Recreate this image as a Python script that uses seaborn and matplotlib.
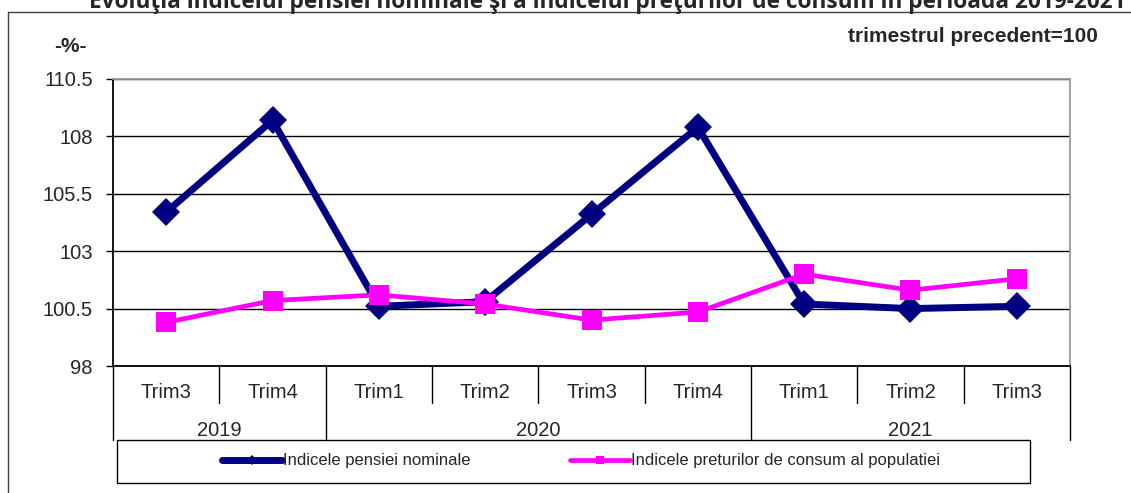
import matplotlib.pyplot as plt
import matplotlib.transforms as mtransforms
from matplotlib.lines import Line2D
from matplotlib.patches import Rectangle
import seaborn as sns
import numpy as np

quarters = ["Trim3", "Trim4", "Trim1", "Trim2", "Trim3", "Trim4", "Trim1", "Trim2", "Trim3"]
years = ["2019", "2019", "2020", "2020", "2020", "2020", "2021", "2021", "2021"]
pensie = [104.7, 108.7, 100.6, 100.8, 104.6, 108.4, 100.7, 100.5, 100.6]
preturi = [99.9, 100.85, 101.1, 100.7, 100.0, 100.35, 102.0, 101.3, 101.8]
y_ticks = [98, 100.5, 103, 105.5, 108, 110.5]
series_names = ["Indicele pensiei nominale", "Indicele preturilor de consum al populatiei"]
title = "Evoluţia indicelui pensiei nominale şi a indicelui preţurilor de consum în perioada 2019-2021"

sns.set_style("white")
plt.rcParams['font.family'] = ['Liberation Sans', 'DejaVu Sans']

fig = plt.figure(figsize=(11.31, 4.93), dpi=100)
ax = fig.add_axes([113 / 1131, 1 - 366 / 493, (1070 - 113) / 1131, (366 - 79) / 493])

pos = np.arange(len(quarters))
sns.lineplot(x=pos, y=pensie, ax=ax, color='#000080', linewidth=5, marker='D',
             markersize=14, markeredgewidth=0, label=series_names[0], legend=False)
sns.lineplot(x=pos, y=preturi, ax=ax, color='#FF00FF', linewidth=3.4, marker='s',
             markersize=14, markeredgewidth=0, label=series_names[1], legend=False)

ax.set_xlim(-0.5, len(quarters) - 0.5)
ax.set_ylim(y_ticks[0], y_ticks[-1])
ax.set_yticks(y_ticks)
ax.set_yticklabels([f"{t:g}" for t in y_ticks], fontsize=14.5)
ax.set_xticks([])
ax.set_xlabel("")
ax.set_ylabel("")
ax.grid(axis='y', color='black', linewidth=1)
ax.tick_params(axis='y', left=True, length=5, width=1, color='black', pad=9.5)
ax.spines['left'].set_color('black')
ax.spines['bottom'].set_color('black')
ax.spines['top'].set_color('#999999')
ax.spines['right'].set_color('#999999')
for s in ax.spines.values():
    s.set_linewidth(1.3)

# category axis below the plot
trans = mtransforms.blended_transform_factory(ax.transData, ax.transAxes)
short_h = 37 / 287
long_h = 74 / 287
for i in range(len(quarters) + 1):
    edge = i == 0 or i == len(quarters) or years[i] != years[i - 1]
    h = long_h if edge else short_h
    ax.plot([i - 0.5, i - 0.5], [0, -h], transform=trans, color='black',
            linewidth=1, clip_on=False)
for i, q in enumerate(quarters):
    ax.text(i, -27 / 287, q, transform=trans, ha='center', va='center', fontsize=14.5)
for yr in dict.fromkeys(years):
    idx = [i for i, y in enumerate(years) if y == yr]
    ax.text(np.mean(idx), -65 / 287, yr, transform=trans, ha='center', va='center', fontsize=14.5)

# legend box
fig.add_artist(Rectangle((117 / 1131, 1 - 483 / 493), (1030 - 117) / 1131, 43 / 493,
                         transform=fig.transFigure, fill=False, edgecolor='black', linewidth=1))
handles, labels = ax.get_legend_handles_labels()
fig.legend(handles, labels, loc='center', bbox_to_anchor=(581 / 1131, 1 - 461 / 493),
           ncol=2, frameon=False, handlelength=3.6, markerscale=0.4,
           columnspacing=6.0, handletextpad=0.05,
           prop={'family': ['Liberation Sans Narrow', 'Liberation Sans'], 'size': 12})

# outer chart frame
fig.add_artist(Line2D([8 / 1131, 8 / 1131], [0, 1 - 12 / 493], transform=fig.transFigure,
                      color='#404040', linewidth=1))
fig.add_artist(Line2D([8 / 1131, 1], [1 - 12 / 493, 1 - 12 / 493], transform=fig.transFigure,
                      color='#404040', linewidth=1))

fig.text(607 / 1131, 1 - 8 / 493, title, ha='center', va='baseline', fontsize=16.3,
         fontweight='bold', family=['Open Sans', 'DejaVu Sans'])
fig.text(70 / 1131, 1 - 46 / 493, "-%-", ha='center', va='center', fontsize=15, fontweight='bold')
fig.text(1098 / 1131, 1 - 36 / 493, "trimestrul precedent=100", ha='right', va='center',
         fontsize=15, fontweight='bold')

fig.savefig("out.png", dpi=100)
plt.close(fig)
